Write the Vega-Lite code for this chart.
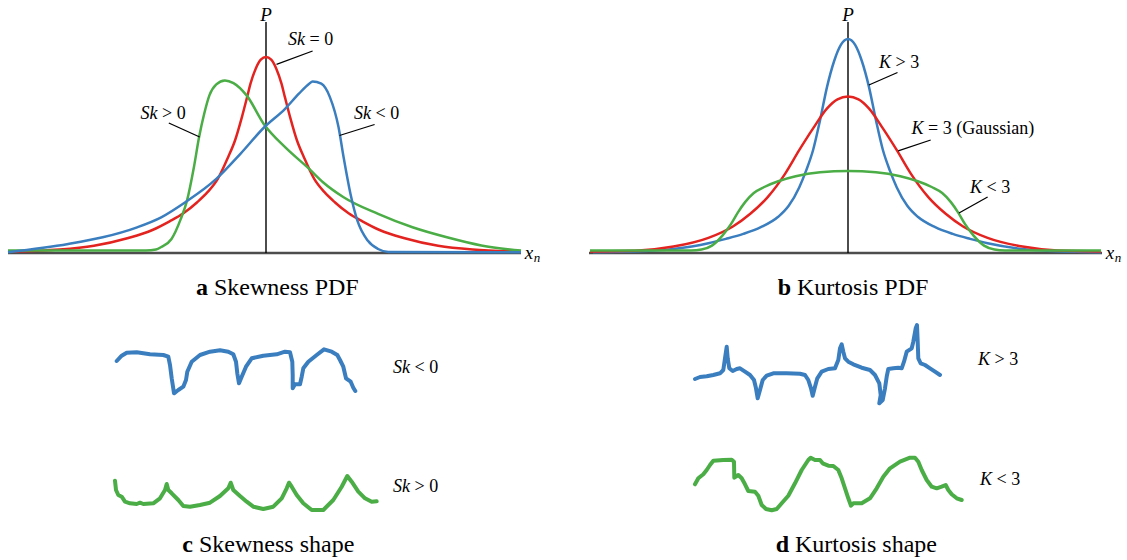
{
"$schema":"https://vega.github.io/schema/vega-lite/v6.json",
"padding":0,
"background":"white",
"columns":2,
"spacing":0,
"bounds":"flush",
"align":"each",
"resolve":{"scale":{"color":"independent","x":"independent","y":"independent"}},
"config":{"view":{"stroke":null},"text":{"font":"Liberation Serif","color":"black"}},
"datasets":{
"pdf":[
{"p":"a","c":"Sk=0","x":-2.57,"y":0.015},{"p":"a","c":"Sk=0","x":-2.065,"y":0.035},{"p":"a","c":"Sk=0","x":-1.721,"y":0.073},{"p":"a","c":"Sk=0","x":-1.377,"y":0.15},{"p":"a","c":"Sk=0","x":-1.136,"y":0.23},{"p":"a","c":"Sk=0","x":-0.964,"y":0.317},{"p":"a","c":"Sk=0","x":-0.826,"y":0.397},{"p":"a","c":"Sk=0","x":-0.688,"y":0.508},{"p":"a","c":"Sk=0","x":-0.585,"y":0.608},{"p":"a","c":"Sk=0","x":-0.482,"y":0.741},{"p":"a","c":"Sk=0","x":-0.379,"y":0.958},{"p":"a","c":"Sk=0","x":-0.31,"y":1.125},{"p":"a","c":"Sk=0","x":-0.241,"y":1.359},{"p":"a","c":"Sk=0","x":-0.189,"y":1.559},{"p":"a","c":"Sk=0","x":-0.155,"y":1.693},{"p":"a","c":"Sk=0","x":-0.103,"y":1.843},{"p":"a","c":"Sk=0","x":-0.052,"y":1.933},{"p":"a","c":"Sk=0","x":0,"y":1.96},{"p":"a","c":"Sk=0","x":0.052,"y":1.933},{"p":"a","c":"Sk=0","x":0.103,"y":1.843},{"p":"a","c":"Sk=0","x":0.155,"y":1.693},{"p":"a","c":"Sk=0","x":0.189,"y":1.559},{"p":"a","c":"Sk=0","x":0.241,"y":1.359},{"p":"a","c":"Sk=0","x":0.31,"y":1.125},{"p":"a","c":"Sk=0","x":0.379,"y":0.958},{"p":"a","c":"Sk=0","x":0.482,"y":0.741},{"p":"a","c":"Sk=0","x":0.585,"y":0.608},{"p":"a","c":"Sk=0","x":0.688,"y":0.508},{"p":"a","c":"Sk=0","x":0.826,"y":0.397},{"p":"a","c":"Sk=0","x":0.964,"y":0.317},{"p":"a","c":"Sk=0","x":1.136,"y":0.23},{"p":"a","c":"Sk=0","x":1.377,"y":0.15},{"p":"a","c":"Sk=0","x":1.721,"y":0.073},{"p":"a","c":"Sk=0","x":2.065,"y":0.035},{"p":"a","c":"Sk=0","x":2.55,"y":0.015},
{"p":"a","c":"Sk>0","x":-2.58,"y":0.025},{"p":"a","c":"Sk>0","x":-1.2,"y":0.025},{"p":"a","c":"Sk>0","x":-1.1,"y":0.035},{"p":"a","c":"Sk>0","x":-1.048,"y":0.06},{"p":"a","c":"Sk>0","x":-0.945,"y":0.14},{"p":"a","c":"Sk>0","x":-0.852,"y":0.341},{"p":"a","c":"Sk>0","x":-0.79,"y":0.524},{"p":"a","c":"Sk>0","x":-0.721,"y":0.858},{"p":"a","c":"Sk>0","x":-0.669,"y":1.159},{"p":"a","c":"Sk>0","x":-0.618,"y":1.392},{"p":"a","c":"Sk>0","x":-0.566,"y":1.576},{"p":"a","c":"Sk>0","x":-0.497,"y":1.686},{"p":"a","c":"Sk>0","x":-0.411,"y":1.726},{"p":"a","c":"Sk>0","x":-0.325,"y":1.699},{"p":"a","c":"Sk>0","x":-0.194,"y":1.576},{"p":"a","c":"Sk>0","x":-0.015,"y":1.28},{"p":"a","c":"Sk>0","x":0.191,"y":1.058},{"p":"a","c":"Sk>0","x":0.432,"y":0.841},{"p":"a","c":"Sk>0","x":0.57,"y":0.708},{"p":"a","c":"Sk>0","x":0.776,"y":0.558},{"p":"a","c":"Sk>0","x":1.121,"y":0.391},{"p":"a","c":"Sk>0","x":1.465,"y":0.257},{"p":"a","c":"Sk>0","x":1.809,"y":0.157},{"p":"a","c":"Sk>0","x":2.153,"y":0.075},{"p":"a","c":"Sk>0","x":2.55,"y":0.025},
{"p":"a","c":"Sk<0","x":-2.58,"y":0.008},{"p":"a","c":"Sk<0","x":-1.978,"y":0.09},{"p":"a","c":"Sk<0","x":-1.633,"y":0.157},{"p":"a","c":"Sk<0","x":-1.289,"y":0.257},{"p":"a","c":"Sk<0","x":-1.048,"y":0.357},{"p":"a","c":"Sk<0","x":-0.807,"y":0.508},{"p":"a","c":"Sk<0","x":-0.497,"y":0.741},{"p":"a","c":"Sk<0","x":-0.256,"y":0.992},{"p":"a","c":"Sk<0","x":-0.015,"y":1.26},{"p":"a","c":"Sk<0","x":0.191,"y":1.442},{"p":"a","c":"Sk<0","x":0.329,"y":1.593},{"p":"a","c":"Sk<0","x":0.432,"y":1.693},{"p":"a","c":"Sk<0","x":0.466,"y":1.716},{"p":"a","c":"Sk<0","x":0.553,"y":1.693},{"p":"a","c":"Sk<0","x":0.639,"y":1.559},{"p":"a","c":"Sk<0","x":0.725,"y":1.259},{"p":"a","c":"Sk<0","x":0.776,"y":0.958},{"p":"a","c":"Sk<0","x":0.845,"y":0.591},{"p":"a","c":"Sk<0","x":0.914,"y":0.324},{"p":"a","c":"Sk<0","x":1.017,"y":0.124},{"p":"a","c":"Sk<0","x":1.121,"y":0.04},{"p":"a","c":"Sk<0","x":1.224,"y":0.01},{"p":"a","c":"Sk<0","x":2.55,"y":0.008},
{"p":"b","c":"K>3","x":-2.55,"y":0.008},{"p":"b","c":"K>3","x":-2.094,"y":0.017},{"p":"b","c":"K>3","x":-1.745,"y":0.04},{"p":"b","c":"K>3","x":-1.396,"y":0.097},{"p":"b","c":"K>3","x":-1.221,"y":0.141},{"p":"b","c":"K>3","x":-1.047,"y":0.191},{"p":"b","c":"K>3","x":-0.872,"y":0.258},{"p":"b","c":"K>3","x":-0.698,"y":0.362},{"p":"b","c":"K>3","x":-0.593,"y":0.472},{"p":"b","c":"K>3","x":-0.488,"y":0.656},{"p":"b","c":"K>3","x":-0.419,"y":0.824},{"p":"b","c":"K>3","x":-0.349,"y":1.03},{"p":"b","c":"K>3","x":-0.279,"y":1.33},{"p":"b","c":"K>3","x":-0.209,"y":1.664},{"p":"b","c":"K>3","x":-0.14,"y":1.915},{"p":"b","c":"K>3","x":-0.07,"y":2.083},{"p":"b","c":"K>3","x":0,"y":2.14},{"p":"b","c":"K>3","x":0.07,"y":2.083},{"p":"b","c":"K>3","x":0.14,"y":1.915},{"p":"b","c":"K>3","x":0.209,"y":1.664},{"p":"b","c":"K>3","x":0.279,"y":1.33},{"p":"b","c":"K>3","x":0.349,"y":1.03},{"p":"b","c":"K>3","x":0.419,"y":0.824},{"p":"b","c":"K>3","x":0.488,"y":0.656},{"p":"b","c":"K>3","x":0.593,"y":0.472},{"p":"b","c":"K>3","x":0.698,"y":0.362},{"p":"b","c":"K>3","x":0.872,"y":0.258},{"p":"b","c":"K>3","x":1.047,"y":0.191},{"p":"b","c":"K>3","x":1.221,"y":0.141},{"p":"b","c":"K>3","x":1.396,"y":0.097},{"p":"b","c":"K>3","x":1.745,"y":0.04},{"p":"b","c":"K>3","x":2.094,"y":0.017},{"p":"b","c":"K>3","x":2.53,"y":0.008},
{"p":"b","c":"K=3","x":-2.58,"y":0.015},{"p":"b","c":"K=3","x":-2.094,"y":0.025},{"p":"b","c":"K=3","x":-1.745,"y":0.064},{"p":"b","c":"K=3","x":-1.396,"y":0.151},{"p":"b","c":"K=3","x":-1.151,"y":0.265},{"p":"b","c":"K=3","x":-0.977,"y":0.392},{"p":"b","c":"K=3","x":-0.803,"y":0.559},{"p":"b","c":"K=3","x":-0.628,"y":0.794},{"p":"b","c":"K=3","x":-0.488,"y":1.028},{"p":"b","c":"K=3","x":-0.349,"y":1.246},{"p":"b","c":"K=3","x":-0.209,"y":1.447},{"p":"b","c":"K=3","x":-0.105,"y":1.537},{"p":"b","c":"K=3","x":0,"y":1.564},{"p":"b","c":"K=3","x":0.105,"y":1.537},{"p":"b","c":"K=3","x":0.209,"y":1.447},{"p":"b","c":"K=3","x":0.349,"y":1.246},{"p":"b","c":"K=3","x":0.488,"y":1.028},{"p":"b","c":"K=3","x":0.628,"y":0.794},{"p":"b","c":"K=3","x":0.803,"y":0.559},{"p":"b","c":"K=3","x":0.977,"y":0.392},{"p":"b","c":"K=3","x":1.151,"y":0.265},{"p":"b","c":"K=3","x":1.396,"y":0.151},{"p":"b","c":"K=3","x":1.745,"y":0.064},{"p":"b","c":"K=3","x":2.094,"y":0.025},{"p":"b","c":"K=3","x":2.53,"y":0.015},
{"p":"b","c":"K<3","x":-2.58,"y":0.025},{"p":"b","c":"K<3","x":-1.57,"y":0.025},{"p":"b","c":"K<3","x":-1.465,"y":0.035},{"p":"b","c":"K<3","x":-1.361,"y":0.074},{"p":"b","c":"K<3","x":-1.256,"y":0.174},{"p":"b","c":"K<3","x":-1.169,"y":0.291},{"p":"b","c":"K<3","x":-1.099,"y":0.409},{"p":"b","c":"K<3","x":-1.029,"y":0.509},{"p":"b","c":"K<3","x":-0.942,"y":0.6},{"p":"b","c":"K<3","x":-0.837,"y":0.66},{"p":"b","c":"K<3","x":-0.698,"y":0.717},{"p":"b","c":"K<3","x":-0.523,"y":0.767},{"p":"b","c":"K<3","x":-0.279,"y":0.807},{"p":"b","c":"K<3","x":0,"y":0.82},{"p":"b","c":"K<3","x":0.279,"y":0.807},{"p":"b","c":"K<3","x":0.523,"y":0.767},{"p":"b","c":"K<3","x":0.698,"y":0.717},{"p":"b","c":"K<3","x":0.837,"y":0.66},{"p":"b","c":"K<3","x":0.942,"y":0.6},{"p":"b","c":"K<3","x":1.029,"y":0.509},{"p":"b","c":"K<3","x":1.099,"y":0.409},{"p":"b","c":"K<3","x":1.169,"y":0.291},{"p":"b","c":"K<3","x":1.256,"y":0.174},{"p":"b","c":"K<3","x":1.361,"y":0.074},{"p":"b","c":"K<3","x":1.465,"y":0.035},{"p":"b","c":"K<3","x":1.57,"y":0.025},{"p":"b","c":"K<3","x":2.53,"y":0.025}
],
"wave":[
{"p":"c","c":"Sk<0","i":1,"x":0.167,"y":1.99},{"p":"c","c":"Sk<0","i":2,"x":0.217,"y":2.043},{"p":"c","c":"Sk<0","i":3,"x":0.267,"y":2.073},{"p":"c","c":"Sk<0","i":4,"x":0.367,"y":2.077},{"p":"c","c":"Sk<0","i":5,"x":0.433,"y":2.067},{"p":"c","c":"Sk<0","i":6,"x":0.5,"y":2.057},{"p":"c","c":"Sk<0","i":7,"x":0.633,"y":2.05},{"p":"c","c":"Sk<0","i":8,"x":0.683,"y":2.033},{"p":"c","c":"Sk<0","i":9,"x":0.7,"y":1.95},{"p":"c","c":"Sk<0","i":10,"x":0.717,"y":1.817},{"p":"c","c":"Sk<0","i":11,"x":0.74,"y":1.667},{"p":"c","c":"Sk<0","i":12,"x":0.783,"y":1.7},{"p":"c","c":"Sk<0","i":13,"x":0.833,"y":1.733},{"p":"c","c":"Sk<0","i":14,"x":0.86,"y":1.8},{"p":"c","c":"Sk<0","i":15,"x":0.873,"y":1.883},{"p":"c","c":"Sk<0","i":16,"x":0.917,"y":1.983},{"p":"c","c":"Sk<0","i":17,"x":1.0,"y":2.05},{"p":"c","c":"Sk<0","i":18,"x":1.1,"y":2.083},{"p":"c","c":"Sk<0","i":19,"x":1.2,"y":2.097},{"p":"c","c":"Sk<0","i":20,"x":1.283,"y":2.083},{"p":"c","c":"Sk<0","i":21,"x":1.333,"y":2.057},{"p":"c","c":"Sk<0","i":22,"x":1.36,"y":1.983},{"p":"c","c":"Sk<0","i":23,"x":1.373,"y":1.867},{"p":"c","c":"Sk<0","i":24,"x":1.39,"y":1.767},{"p":"c","c":"Sk<0","i":25,"x":1.417,"y":1.833},{"p":"c","c":"Sk<0","i":26,"x":1.46,"y":1.933},{"p":"c","c":"Sk<0","i":27,"x":1.517,"y":2.017},{"p":"c","c":"Sk<0","i":28,"x":1.633,"y":2.043},{"p":"c","c":"Sk<0","i":29,"x":1.767,"y":2.057},{"p":"c","c":"Sk<0","i":30,"x":1.85,"y":2.083},{"p":"c","c":"Sk<0","i":31,"x":1.9,"y":2.077},{"p":"c","c":"Sk<0","i":32,"x":1.923,"y":1.983},{"p":"c","c":"Sk<0","i":33,"x":1.927,"y":1.85},{"p":"c","c":"Sk<0","i":34,"x":1.927,"y":1.717},{"p":"c","c":"Sk<0","i":35,"x":1.95,"y":1.757},{"p":"c","c":"Sk<0","i":36,"x":2.0,"y":1.757},{"p":"c","c":"Sk<0","i":37,"x":2.017,"y":1.833},{"p":"c","c":"Sk<0","i":38,"x":2.033,"y":1.917},{"p":"c","c":"Sk<0","i":39,"x":2.083,"y":1.983},{"p":"c","c":"Sk<0","i":40,"x":2.167,"y":2.05},{"p":"c","c":"Sk<0","i":41,"x":2.24,"y":2.107},{"p":"c","c":"Sk<0","i":42,"x":2.317,"y":2.083},{"p":"c","c":"Sk<0","i":43,"x":2.373,"y":2.05},{"p":"c","c":"Sk<0","i":44,"x":2.4,"y":2.0},{"p":"c","c":"Sk<0","i":45,"x":2.433,"y":1.933},{"p":"c","c":"Sk<0","i":46,"x":2.46,"y":1.817},{"p":"c","c":"Sk<0","i":47,"x":2.507,"y":1.783},{"p":"c","c":"Sk<0","i":48,"x":2.533,"y":1.723},{"p":"c","c":"Sk<0","i":49,"x":2.553,"y":1.69},
{"p":"c","c":"Sk>0","i":1,"x":0.15,"y":0.793},{"p":"c","c":"Sk>0","i":2,"x":0.16,"y":0.7},{"p":"c","c":"Sk>0","i":3,"x":0.183,"y":0.65},{"p":"c","c":"Sk>0","i":4,"x":0.217,"y":0.633},{"p":"c","c":"Sk>0","i":5,"x":0.25,"y":0.583},{"p":"c","c":"Sk>0","i":6,"x":0.3,"y":0.567},{"p":"c","c":"Sk>0","i":7,"x":0.367,"y":0.56},{"p":"c","c":"Sk>0","i":8,"x":0.4,"y":0.573},{"p":"c","c":"Sk>0","i":9,"x":0.433,"y":0.56},{"p":"c","c":"Sk>0","i":10,"x":0.533,"y":0.567},{"p":"c","c":"Sk>0","i":11,"x":0.6,"y":0.617},{"p":"c","c":"Sk>0","i":12,"x":0.65,"y":0.7},{"p":"c","c":"Sk>0","i":13,"x":0.667,"y":0.76},{"p":"c","c":"Sk>0","i":14,"x":0.683,"y":0.7},{"p":"c","c":"Sk>0","i":15,"x":0.717,"y":0.667},{"p":"c","c":"Sk>0","i":16,"x":0.783,"y":0.6},{"p":"c","c":"Sk>0","i":17,"x":0.833,"y":0.54},{"p":"c","c":"Sk>0","i":18,"x":0.9,"y":0.533},{"p":"c","c":"Sk>0","i":19,"x":1.0,"y":0.55},{"p":"c","c":"Sk>0","i":20,"x":1.1,"y":0.573},{"p":"c","c":"Sk>0","i":21,"x":1.2,"y":0.64},{"p":"c","c":"Sk>0","i":22,"x":1.283,"y":0.717},{"p":"c","c":"Sk>0","i":23,"x":1.307,"y":0.773},{"p":"c","c":"Sk>0","i":24,"x":1.333,"y":0.7},{"p":"c","c":"Sk>0","i":25,"x":1.4,"y":0.64},{"p":"c","c":"Sk>0","i":26,"x":1.467,"y":0.583},{"p":"c","c":"Sk>0","i":27,"x":1.533,"y":0.533},{"p":"c","c":"Sk>0","i":28,"x":1.633,"y":0.51},{"p":"c","c":"Sk>0","i":29,"x":1.733,"y":0.533},{"p":"c","c":"Sk>0","i":30,"x":1.817,"y":0.617},{"p":"c","c":"Sk>0","i":31,"x":1.867,"y":0.717},{"p":"c","c":"Sk>0","i":32,"x":1.89,"y":0.773},{"p":"c","c":"Sk>0","i":33,"x":1.917,"y":0.733},{"p":"c","c":"Sk>0","i":34,"x":1.967,"y":0.65},{"p":"c","c":"Sk>0","i":35,"x":2.033,"y":0.567},{"p":"c","c":"Sk>0","i":36,"x":2.117,"y":0.5},{"p":"c","c":"Sk>0","i":37,"x":2.233,"y":0.5},{"p":"c","c":"Sk>0","i":38,"x":2.333,"y":0.6},{"p":"c","c":"Sk>0","i":39,"x":2.417,"y":0.733},{"p":"c","c":"Sk>0","i":40,"x":2.473,"y":0.84},{"p":"c","c":"Sk>0","i":41,"x":2.517,"y":0.783},{"p":"c","c":"Sk>0","i":42,"x":2.583,"y":0.683},{"p":"c","c":"Sk>0","i":43,"x":2.65,"y":0.617},{"p":"c","c":"Sk>0","i":44,"x":2.717,"y":0.583},{"p":"c","c":"Sk>0","i":45,"x":2.767,"y":0.587},
{"p":"d","c":"K>3","i":1,"x":0.15,"y":1.81},{"p":"d","c":"K>3","i":2,"x":0.2,"y":1.83},{"p":"d","c":"K>3","i":3,"x":0.267,"y":1.837},{"p":"d","c":"K>3","i":4,"x":0.333,"y":1.85},{"p":"d","c":"K>3","i":5,"x":0.4,"y":1.867},{"p":"d","c":"K>3","i":6,"x":0.433,"y":1.9},{"p":"d","c":"K>3","i":7,"x":0.45,"y":2.017},{"p":"d","c":"K>3","i":8,"x":0.467,"y":2.133},{"p":"d","c":"K>3","i":9,"x":0.477,"y":2.017},{"p":"d","c":"K>3","i":10,"x":0.493,"y":1.917},{"p":"d","c":"K>3","i":11,"x":0.527,"y":1.89},{"p":"d","c":"K>3","i":12,"x":0.567,"y":1.91},{"p":"d","c":"K>3","i":13,"x":0.6,"y":1.917},{"p":"d","c":"K>3","i":14,"x":0.65,"y":1.883},{"p":"d","c":"K>3","i":15,"x":0.7,"y":1.85},{"p":"d","c":"K>3","i":16,"x":0.74,"y":1.8},{"p":"d","c":"K>3","i":17,"x":0.76,"y":1.717},{"p":"d","c":"K>3","i":18,"x":0.777,"y":1.617},{"p":"d","c":"K>3","i":19,"x":0.8,"y":1.7},{"p":"d","c":"K>3","i":20,"x":0.827,"y":1.8},{"p":"d","c":"K>3","i":21,"x":0.867,"y":1.843},{"p":"d","c":"K>3","i":22,"x":0.933,"y":1.867},{"p":"d","c":"K>3","i":23,"x":1.067,"y":1.867},{"p":"d","c":"K>3","i":24,"x":1.2,"y":1.863},{"p":"d","c":"K>3","i":25,"x":1.25,"y":1.85},{"p":"d","c":"K>3","i":26,"x":1.283,"y":1.8},{"p":"d","c":"K>3","i":27,"x":1.31,"y":1.717},{"p":"d","c":"K>3","i":28,"x":1.327,"y":1.643},{"p":"d","c":"K>3","i":29,"x":1.35,"y":1.733},{"p":"d","c":"K>3","i":30,"x":1.373,"y":1.817},{"p":"d","c":"K>3","i":31,"x":1.417,"y":1.883},{"p":"d","c":"K>3","i":32,"x":1.483,"y":1.91},{"p":"d","c":"K>3","i":33,"x":1.55,"y":1.917},{"p":"d","c":"K>3","i":34,"x":1.583,"y":2.0},{"p":"d","c":"K>3","i":35,"x":1.6,"y":2.117},{"p":"d","c":"K>3","i":36,"x":1.617,"y":2.157},{"p":"d","c":"K>3","i":37,"x":1.633,"y":2.083},{"p":"d","c":"K>3","i":38,"x":1.65,"y":2.017},{"p":"d","c":"K>3","i":39,"x":1.683,"y":1.983},{"p":"d","c":"K>3","i":40,"x":1.733,"y":1.957},{"p":"d","c":"K>3","i":41,"x":1.817,"y":1.923},{"p":"d","c":"K>3","i":42,"x":1.9,"y":1.9},{"p":"d","c":"K>3","i":43,"x":1.95,"y":1.85},{"p":"d","c":"K>3","i":44,"x":1.993,"y":1.767},{"p":"d","c":"K>3","i":45,"x":2.007,"y":1.65},{"p":"d","c":"K>3","i":46,"x":1.993,"y":1.567},{"p":"d","c":"K>3","i":47,"x":2.027,"y":1.6},{"p":"d","c":"K>3","i":48,"x":2.05,"y":1.717},{"p":"d","c":"K>3","i":49,"x":2.067,"y":1.833},{"p":"d","c":"K>3","i":50,"x":2.083,"y":1.91},{"p":"d","c":"K>3","i":51,"x":2.133,"y":1.917},{"p":"d","c":"K>3","i":52,"x":2.183,"y":1.923},{"p":"d","c":"K>3","i":53,"x":2.217,"y":1.917},{"p":"d","c":"K>3","i":54,"x":2.24,"y":1.983},{"p":"d","c":"K>3","i":55,"x":2.267,"y":2.083},{"p":"d","c":"K>3","i":56,"x":2.317,"y":2.117},{"p":"d","c":"K>3","i":57,"x":2.333,"y":2.183},{"p":"d","c":"K>3","i":58,"x":2.357,"y":2.317},{"p":"d","c":"K>3","i":59,"x":2.37,"y":2.35},{"p":"d","c":"K>3","i":60,"x":2.377,"y":2.183},{"p":"d","c":"K>3","i":61,"x":2.383,"y":2.017},{"p":"d","c":"K>3","i":62,"x":2.407,"y":1.967},{"p":"d","c":"K>3","i":63,"x":2.45,"y":1.95},{"p":"d","c":"K>3","i":64,"x":2.5,"y":1.917},{"p":"d","c":"K>3","i":65,"x":2.55,"y":1.883},{"p":"d","c":"K>3","i":66,"x":2.6,"y":1.85},
{"p":"d","c":"K<3","i":1,"x":0.15,"y":0.757},{"p":"d","c":"K<3","i":2,"x":0.183,"y":0.817},{"p":"d","c":"K<3","i":3,"x":0.233,"y":0.857},{"p":"d","c":"K<3","i":4,"x":0.267,"y":0.9},{"p":"d","c":"K<3","i":5,"x":0.3,"y":0.95},{"p":"d","c":"K<3","i":6,"x":0.333,"y":0.993},{"p":"d","c":"K<3","i":7,"x":0.433,"y":1.0},{"p":"d","c":"K<3","i":8,"x":0.517,"y":1.003},{"p":"d","c":"K<3","i":9,"x":0.54,"y":0.983},{"p":"d","c":"K<3","i":10,"x":0.543,"y":0.823},{"p":"d","c":"K<3","i":11,"x":0.583,"y":0.85},{"p":"d","c":"K<3","i":12,"x":0.617,"y":0.817},{"p":"d","c":"K<3","i":13,"x":0.65,"y":0.757},{"p":"d","c":"K<3","i":14,"x":0.683,"y":0.69},{"p":"d","c":"K<3","i":15,"x":0.75,"y":0.683},{"p":"d","c":"K<3","i":16,"x":0.783,"y":0.643},{"p":"d","c":"K<3","i":17,"x":0.817,"y":0.55},{"p":"d","c":"K<3","i":18,"x":0.86,"y":0.51},{"p":"d","c":"K<3","i":19,"x":0.917,"y":0.497},{"p":"d","c":"K<3","i":20,"x":0.967,"y":0.51},{"p":"d","c":"K<3","i":21,"x":1.017,"y":0.567},{"p":"d","c":"K<3","i":22,"x":1.083,"y":0.643},{"p":"d","c":"K<3","i":23,"x":1.15,"y":0.767},{"p":"d","c":"K<3","i":24,"x":1.217,"y":0.9},{"p":"d","c":"K<3","i":25,"x":1.283,"y":1.0},{"p":"d","c":"K<3","i":26,"x":1.307,"y":1.023},{"p":"d","c":"K<3","i":27,"x":1.35,"y":1.0},{"p":"d","c":"K<3","i":28,"x":1.4,"y":1.0},{"p":"d","c":"K<3","i":29,"x":1.427,"y":0.967},{"p":"d","c":"K<3","i":30,"x":1.483,"y":0.943},{"p":"d","c":"K<3","i":31,"x":1.533,"y":0.94},{"p":"d","c":"K<3","i":32,"x":1.583,"y":0.9},{"p":"d","c":"K<3","i":33,"x":1.617,"y":0.817},{"p":"d","c":"K<3","i":34,"x":1.65,"y":0.717},{"p":"d","c":"K<3","i":35,"x":1.683,"y":0.617},{"p":"d","c":"K<3","i":36,"x":1.71,"y":0.543},{"p":"d","c":"K<3","i":37,"x":1.733,"y":0.567},{"p":"d","c":"K<3","i":38,"x":1.817,"y":0.567},{"p":"d","c":"K<3","i":39,"x":1.9,"y":0.617},{"p":"d","c":"K<3","i":40,"x":1.967,"y":0.717},{"p":"d","c":"K<3","i":41,"x":2.033,"y":0.833},{"p":"d","c":"K<3","i":42,"x":2.1,"y":0.917},{"p":"d","c":"K<3","i":43,"x":2.2,"y":0.983},{"p":"d","c":"K<3","i":44,"x":2.3,"y":1.023},{"p":"d","c":"K<3","i":45,"x":2.35,"y":1.023},{"p":"d","c":"K<3","i":46,"x":2.383,"y":0.983},{"p":"d","c":"K<3","i":47,"x":2.417,"y":0.9},{"p":"d","c":"K<3","i":48,"x":2.467,"y":0.8},{"p":"d","c":"K<3","i":49,"x":2.517,"y":0.733},{"p":"d","c":"K<3","i":50,"x":2.567,"y":0.717},{"p":"d","c":"K<3","i":51,"x":2.617,"y":0.733},{"p":"d","c":"K<3","i":52,"x":2.657,"y":0.75},{"p":"d","c":"K<3","i":53,"x":2.683,"y":0.7},{"p":"d","c":"K<3","i":54,"x":2.717,"y":0.657},{"p":"d","c":"K<3","i":55,"x":2.767,"y":0.617},{"p":"d","c":"K<3","i":56,"x":2.817,"y":0.6}
],
"axes":[
{"p":"a","k":"base","x":-2.58,"y":0,"x2":2.55,"y2":0},{"p":"a","k":"vert","x":0,"y":0,"x2":0,"y2":2.31},
{"p":"b","k":"base","x":-2.59,"y":0,"x2":2.54,"y2":0},{"p":"b","k":"vert","x":0,"y":0,"x2":0,"y2":2.31}
],
"lead":[
{"p":"a","x":0.105,"y":1.886,"x2":0.466,"y2":2.02},{"p":"a","x":-0.972,"y":1.3,"x2":-0.663,"y2":1.16},{"p":"a","x":1.086,"y":1.285,"x2":0.735,"y2":1.175},
{"p":"b","x":0.495,"y":1.805,"x2":0.209,"y2":1.68},{"p":"b","x":0.827,"y":1.13,"x2":0.502,"y2":1.021},{"p":"b","x":1.396,"y":0.56,"x2":1.11,"y2":0.4}
],
"lab":[
{"p":"a","v":"Sk","r":"= 0","x":0.39,"y":2.13},{"p":"a","v":"Sk","r":"> 0","x":-1.085,"y":1.39},{"p":"a","v":"Sk","r":"< 0","x":1.05,"y":1.39},
{"p":"b","v":"K","r":"> 3","x":0.43,"y":1.9},{"p":"b","v":"K","r":"= 3 (Gaussian)","x":0.755,"y":1.236},{"p":"b","v":"K","r":"< 3","x":1.34,"y":0.65},
{"p":"c","v":"Sk","r":"< 0","x":3.1,"y":1.92},{"p":"c","v":"Sk","r":"> 0","x":3.1,"y":0.73},
{"p":"d","v":"K","r":"> 3","x":3.1,"y":2.0},{"p":"d","v":"K","r":"< 3","x":3.12,"y":0.8}
],
"axlab":[
{"p":"a","m":"P","s":"","x":0,"y":2.38},{"p":"a","m":"x","s":"n","x":2.63,"y":0},
{"p":"b","m":"P","s":"","x":0,"y":2.38},{"p":"b","m":"x","s":"n","x":2.62,"y":0}
],
"cap":[
{"p":"a","l":"a","t":"Skewness PDF","x":-0.52,"y":-0.35},
{"p":"b","l":"b","t":"Kurtosis PDF","x":-0.51,"y":-0.35},
{"p":"c","l":"c","t":"Skewness shape","x":0.99,"y":0.15},
{"p":"d","l":"d","t":"Kurtosis shape","x":1.15,"y":0.15}
]
},
"concat":[
{"width":563,"height":253,
"encoding":{"x":{"field":"x","type":"quantitative","scale":{"domain":[-2.66,2.97],"nice":false,"zero":false},"axis":null},"y":{"field":"y","type":"quantitative","scale":{"domain":[0,2.53],"nice":false,"zero":false},"axis":null}},
"layer":[
{"data":{"name":"axes"},"transform":[{"filter":"datum.p==='a' && datum.k==='base'"}],"mark":{"type":"rule","color":"#4d4d4d","strokeWidth":2.5},"encoding":{"x2":{"field":"x2"},"y2":{"field":"y2"}}},
{"data":{"name":"axes"},"transform":[{"filter":"datum.p==='a' && datum.k==='vert'"}],"mark":{"type":"rule","color":"#000000","strokeWidth":1.4},"encoding":{"x2":{"field":"x2"},"y2":{"field":"y2"}}},
{"data":{"name":"pdf"},"transform":[{"filter":"datum.p==='a'"}],"mark":{"type":"line","interpolate":"monotone","strokeWidth":2.5},"encoding":{"color":{"field":"c","type":"nominal","scale":{"domain":["Sk=0","Sk>0","Sk<0","K>3","K=3","K<3"],"range":["#e3231f","#4aad45","#3a7ebf","#3a7ebf","#e3231f","#4aad45"]},"legend":null}}},
{"data":{"name":"lead"},"transform":[{"filter":"datum.p==='a'"}],"mark":{"type":"rule","color":"#000000","strokeWidth":1.3},"encoding":{"x2":{"field":"x2"},"y2":{"field":"y2"}}},
{"data":{"name":"lab"},"transform":[{"filter":"datum.p==='a'"}],"mark":{"type":"text","fontSize":18,"fontStyle":"italic","align":"right","baseline":"middle"},"encoding":{"text":{"field":"v"}}},
{"data":{"name":"lab"},"transform":[{"filter":"datum.p==='a'"}],"mark":{"type":"text","fontSize":18,"align":"left","baseline":"middle","dx":4.5},"encoding":{"text":{"field":"r"}}},
{"data":{"name":"axlab"},"transform":[{"filter":"datum.p==='a'"}],"mark":{"type":"text","fontSize":19,"fontStyle":"italic","align":"center","baseline":"middle"},"encoding":{"text":{"field":"m"}}},
{"data":{"name":"axlab"},"transform":[{"filter":"datum.p==='a'"}],"mark":{"type":"text","fontSize":13,"fontStyle":"italic","align":"center","baseline":"middle","dx":8,"dy":5},"encoding":{"text":{"field":"s"}}},
{"data":{"name":"cap"},"transform":[{"filter":"datum.p==='a'"}],"mark":{"type":"text","fontSize":24,"fontWeight":"bold","align":"right","baseline":"middle","dx":-6},"encoding":{"text":{"field":"l"}}},
{"data":{"name":"cap"},"transform":[{"filter":"datum.p==='a'"}],"mark":{"type":"text","fontSize":24,"align":"left","baseline":"middle"},"encoding":{"text":{"field":"t"}}}
]},
{"width":564,"height":253,
"encoding":{"x":{"field":"x","type":"quantitative","scale":{"domain":[-2.85,2.79],"nice":false,"zero":false},"axis":null},"y":{"field":"y","type":"quantitative","scale":{"domain":[0,2.53],"nice":false,"zero":false},"axis":null}},
"layer":[
{"data":{"name":"axes"},"transform":[{"filter":"datum.p==='b' && datum.k==='base'"}],"mark":{"type":"rule","color":"#4d4d4d","strokeWidth":2.5},"encoding":{"x2":{"field":"x2"},"y2":{"field":"y2"}}},
{"data":{"name":"axes"},"transform":[{"filter":"datum.p==='b' && datum.k==='vert'"}],"mark":{"type":"rule","color":"#000000","strokeWidth":1.4},"encoding":{"x2":{"field":"x2"},"y2":{"field":"y2"}}},
{"data":{"name":"pdf"},"transform":[{"filter":"datum.p==='b'"}],"mark":{"type":"line","interpolate":"monotone","strokeWidth":2.5},"encoding":{"color":{"field":"c","type":"nominal","scale":{"domain":["Sk=0","Sk>0","Sk<0","K>3","K=3","K<3"],"range":["#e3231f","#4aad45","#3a7ebf","#3a7ebf","#e3231f","#4aad45"]},"legend":null}}},
{"data":{"name":"lead"},"transform":[{"filter":"datum.p==='b'"}],"mark":{"type":"rule","color":"#000000","strokeWidth":1.3},"encoding":{"x2":{"field":"x2"},"y2":{"field":"y2"}}},
{"data":{"name":"lab"},"transform":[{"filter":"datum.p==='b'"}],"mark":{"type":"text","fontSize":18,"fontStyle":"italic","align":"right","baseline":"middle"},"encoding":{"text":{"field":"v"}}},
{"data":{"name":"lab"},"transform":[{"filter":"datum.p==='b'"}],"mark":{"type":"text","fontSize":18,"align":"left","baseline":"middle","dx":4.5},"encoding":{"text":{"field":"r"}}},
{"data":{"name":"axlab"},"transform":[{"filter":"datum.p==='b'"}],"mark":{"type":"text","fontSize":19,"fontStyle":"italic","align":"center","baseline":"middle"},"encoding":{"text":{"field":"m"}}},
{"data":{"name":"axlab"},"transform":[{"filter":"datum.p==='b'"}],"mark":{"type":"text","fontSize":13,"fontStyle":"italic","align":"center","baseline":"middle","dx":8,"dy":5},"encoding":{"text":{"field":"s"}}},
{"data":{"name":"cap"},"transform":[{"filter":"datum.p==='b'"}],"mark":{"type":"text","fontSize":24,"fontWeight":"bold","align":"right","baseline":"middle","dx":-6},"encoding":{"text":{"field":"l"}}},
{"data":{"name":"cap"},"transform":[{"filter":"datum.p==='b'"}],"mark":{"type":"text","fontSize":24,"align":"left","baseline":"middle"},"encoding":{"text":{"field":"t"}}}
]},
{"width":563,"height":307,
"encoding":{"x":{"field":"x","type":"quantitative","scale":{"domain":[-1,4.63],"nice":false,"zero":false},"axis":null},"y":{"field":"y","type":"quantitative","scale":{"domain":[0,3.07],"nice":false,"zero":false},"axis":null}},
"layer":[
{"data":{"name":"wave"},"transform":[{"filter":"datum.p==='c'"}],"mark":{"type":"line","strokeWidth":4,"strokeJoin":"round","strokeCap":"round"},"encoding":{"order":{"field":"i","type":"quantitative"},"color":{"field":"c","type":"nominal","scale":{"domain":["Sk<0","Sk>0","K>3","K<3"],"range":["#3a7ebf","#4aad45","#3a7ebf","#4aad45"]},"legend":null}}},
{"data":{"name":"lab"},"transform":[{"filter":"datum.p==='c'"}],"mark":{"type":"text","fontSize":18,"fontStyle":"italic","align":"right","baseline":"middle"},"encoding":{"text":{"field":"v"}}},
{"data":{"name":"lab"},"transform":[{"filter":"datum.p==='c'"}],"mark":{"type":"text","fontSize":18,"align":"left","baseline":"middle","dx":4.5},"encoding":{"text":{"field":"r"}}},
{"data":{"name":"cap"},"transform":[{"filter":"datum.p==='c'"}],"mark":{"type":"text","fontSize":24,"fontWeight":"bold","align":"right","baseline":"middle","dx":-6},"encoding":{"text":{"field":"l"}}},
{"data":{"name":"cap"},"transform":[{"filter":"datum.p==='c'"}],"mark":{"type":"text","fontSize":24,"align":"left","baseline":"middle"},"encoding":{"text":{"field":"t"}}}
]},
{"width":564,"height":307,
"encoding":{"x":{"field":"x","type":"quantitative","scale":{"domain":[-1.17,4.47],"nice":false,"zero":false},"axis":null},"y":{"field":"y","type":"quantitative","scale":{"domain":[0,3.07],"nice":false,"zero":false},"axis":null}},
"layer":[
{"data":{"name":"wave"},"transform":[{"filter":"datum.p==='d'"}],"mark":{"type":"line","strokeWidth":4,"strokeJoin":"round","strokeCap":"round"},"encoding":{"order":{"field":"i","type":"quantitative"},"color":{"field":"c","type":"nominal","scale":{"domain":["Sk<0","Sk>0","K>3","K<3"],"range":["#3a7ebf","#4aad45","#3a7ebf","#4aad45"]},"legend":null}}},
{"data":{"name":"lab"},"transform":[{"filter":"datum.p==='d'"}],"mark":{"type":"text","fontSize":18,"fontStyle":"italic","align":"right","baseline":"middle"},"encoding":{"text":{"field":"v"}}},
{"data":{"name":"lab"},"transform":[{"filter":"datum.p==='d'"}],"mark":{"type":"text","fontSize":18,"align":"left","baseline":"middle","dx":4.5},"encoding":{"text":{"field":"r"}}},
{"data":{"name":"cap"},"transform":[{"filter":"datum.p==='d'"}],"mark":{"type":"text","fontSize":24,"fontWeight":"bold","align":"right","baseline":"middle","dx":-6},"encoding":{"text":{"field":"l"}}},
{"data":{"name":"cap"},"transform":[{"filter":"datum.p==='d'"}],"mark":{"type":"text","fontSize":24,"align":"left","baseline":"middle"},"encoding":{"text":{"field":"t"}}}
]}
]
}
